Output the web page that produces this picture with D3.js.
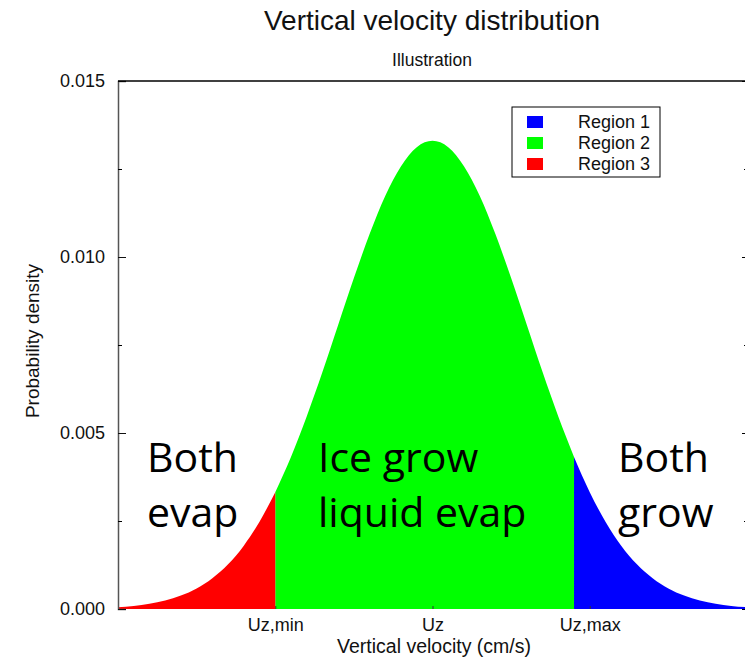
<!DOCTYPE html>
<html>
<head>
<meta charset="utf-8">
<script src="https://cdn.jsdelivr.net/npm/d3@7"></script>
<style>
  body { margin: 0; background: #fff; }
  text { font-family: "Liberation Sans", Arial, sans-serif; fill: #111; }
  .note { font-family: "Open Sans", "Noto Sans", sans-serif; font-size: 41px; fill: #000; }
</style>
</head>
<body>
<div id="chart"></div>
<script>
// vertical velocity (cm/s) and probability density
var velocity = [-100, -95, -90, -85, -80, -75, -70, -65, -60, -55, -50, -45, -40, -35, -30, -25, -20, -15, -10, -5,
  0, 5, 10, 15, 20, 25, 30, 35, 40, 45, 50, 55, 60, 65, 70, 75, 80, 85, 90, 95, 100];
var density = [0.0000513, 0.0000883, 0.000148, 0.000240, 0.000380, 0.000584, 0.000874, 0.00127, 0.00180, 0.00248,
  0.00332, 0.00432, 0.00547, 0.00673, 0.00807, 0.00940, 0.01065, 0.01174, 0.01258, 0.01312,
  0.01330, 0.01312, 0.01258, 0.01174, 0.01065, 0.00940, 0.00807, 0.00673, 0.00547, 0.00432,
  0.00332, 0.00248, 0.00180, 0.00127, 0.000874, 0.000584, 0.000380, 0.000240, 0.000148, 0.0000883, 0.0000513];

// regions: name, velocity range, colour
var region_names = ['Region 1', 'Region 2', 'Region 3'];
var region_from = [45, -50, -100];
var region_to = [100, 45, -50];
var region_colors = ['#0000ff', '#00ff00', '#ff0000'];

var x_tick_values = [-50, 0, 50];
var x_tick_labels = ['Uz,min', 'Uz', 'Uz,max'];
var y_major = [0, 0.005, 0.010, 0.015];
var y_minor = [0.0025, 0.0075, 0.0125];

var svg_width = 745;
var svg_height = 660;
var plot_left = 118, plot_right = 747, plot_top = 81, plot_bottom = 609;

var svg = d3.select('#chart')
  .append('svg')
  .attr('width', svg_width)
  .attr('height', svg_height);

var x = d3.scaleLinear().domain([-100, 100]).range([plot_left, plot_right]);
var y = d3.scaleLinear().domain([0, 0.015]).range([plot_bottom, plot_top]);

var points = velocity.map(function(v, i) { return {v: v, d: density[i]}; });

var area = d3.area()
  .x(function(p) { return x(p.v); })
  .y0(y(0))
  .y1(function(p) { return y(p.d); })
  .curve(d3.curveMonotoneX);

// filled regions
region_names.forEach(function(name, i) {
  var part = points.filter(function(p) { return p.v >= region_from[i] && p.v <= region_to[i]; });
  svg.append('path')
    .datum(part)
    .attr('d', area)
    .attr('fill', region_colors[i]);
});

// left axis
var y_axis = svg.append('g')
  .attr('transform', 'translate(' + plot_left + ',0)')
  .call(d3.axisLeft(y).tickValues(y_major).tickFormat(d3.format('.3f')).tickSize(-8).tickPadding(13));
y_axis.selectAll('text').style('font-size', '18px').attr('fill', '#111');
y_axis.select('.domain').attr('stroke', '#555').attr('stroke-width', 1.5);
y_axis.selectAll('.tick line').attr('stroke', '#111');

svg.append('g')
  .attr('transform', 'translate(' + plot_left + ',0)')
  .call(d3.axisLeft(y).tickValues(y_minor).tickFormat('').tickSize(-4))
  .call(function(g) { g.select('.domain').remove(); });

// right axis (sits right at the edge)
svg.append('g')
  .attr('transform', 'translate(' + plot_right + ',0)')
  .call(d3.axisRight(y).tickValues(y_major).tickFormat('').tickSize(-5))
  .call(function(g) { g.select('.domain').attr('stroke', '#000'); });
svg.append('g')
  .attr('transform', 'translate(' + plot_right + ',0)')
  .call(d3.axisRight(y).tickValues(y_minor).tickFormat('').tickSize(-3))
  .call(function(g) { g.select('.domain').remove(); });

// top border
svg.append('line')
  .attr('x1', plot_left).attr('x2', plot_right)
  .attr('y1', plot_top).attr('y2', plot_top)
  .attr('stroke', '#000').attr('stroke-width', 1.5);

// bottom axis
var x_axis = svg.append('g')
  .attr('transform', 'translate(0,' + plot_bottom + ')')
  .call(d3.axisBottom(x).tickValues(x_tick_values)
    .tickFormat(function(d, i) { return x_tick_labels[i]; })
    .tickSize(-3).tickPadding(9));
x_axis.select('.domain').remove();
x_axis.selectAll('text').style('font-size', '18px').attr('fill', '#111');
x_axis.selectAll('.tick line').attr('stroke', '#333');

// titles
svg.append('text')
  .attr('x', 432).attr('y', 30)
  .attr('text-anchor', 'middle')
  .style('font-size', '28px')
  .text('Vertical velocity distribution');

svg.append('text')
  .attr('x', 432).attr('y', 66)
  .attr('text-anchor', 'middle')
  .style('font-size', '17.5px')
  .text('Illustration');

svg.append('text')
  .attr('x', 434).attr('y', 653)
  .attr('text-anchor', 'middle')
  .style('font-size', '19.5px')
  .text('Vertical velocity (cm/s)');

svg.append('text')
  .attr('transform', 'translate(39,341) rotate(-90)')
  .attr('text-anchor', 'middle')
  .style('font-size', '19px')
  .text('Probability density');

// legend
var legend = svg.append('g');
legend.append('rect')
  .attr('x', 512).attr('y', 107)
  .attr('width', 148).attr('height', 70)
  .attr('fill', '#fff').attr('stroke', '#000').attr('stroke-width', 1);

region_names.forEach(function(name, i) {
  legend.append('rect')
    .attr('x', 527).attr('y', 116 + i * 21)
    .attr('width', 16).attr('height', 12)
    .attr('fill', region_colors[i]);
  legend.append('text')
    .attr('x', 578).attr('y', 128 + i * 21)
    .style('font-size', '18px')
    .text(name);
});

// annotations
var notes = [
  {x: 147, lines: ['Both', 'evap']},
  {x: 318, lines: ['Ice grow', 'liquid evap']},
  {x: 618, lines: ['Both', 'grow']}
];
notes.forEach(function(n) {
  n.lines.forEach(function(line, j) {
    svg.append('text')
      .attr('class', 'note')
      .attr('x', n.x).attr('y', 472 + j * 55)
      .text(line);
  });
});
</script>
</body>
</html>
